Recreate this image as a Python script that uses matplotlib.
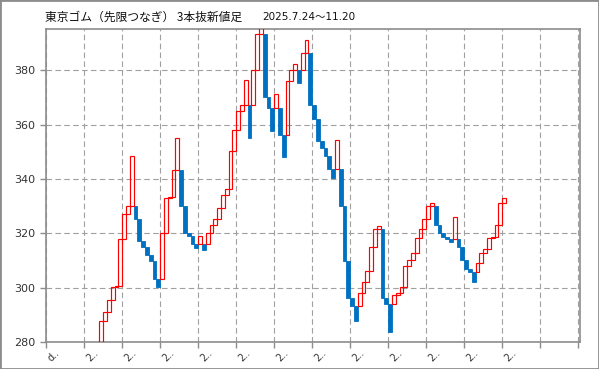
import matplotlib
matplotlib.use("Agg")
import matplotlib.pyplot as plt
from matplotlib.patches import Rectangle
import numpy as np

plt.rcParams["font.family"] = ["Noto Sans CJK JP", "DejaVu Sans"]

title = "東京ゴム（先限つなぎ） 3本抜新値足"
period = "2025.7.24〜11.20"

# box start / end of each new-value bar (bar index starts at 14)
first_bar = 14
opens = [
    275, 288, 291, 295.5, 300.2, 300.7, 318, 327.2, 330.1, 330.1,
    325.2, 317.2, 314.9, 312, 310, 303.2, 303.2, 320, 332.9, 333.3,
    343.3, 343.3, 330.1, 320, 319.2, 316, 316, 316, 316, 320.1,
    323.1, 325.2, 329.3, 334.2, 336.3, 350.2, 358, 365, 367.2, 367.2,
    367.2, 380, 393.2, 393.2, 370, 366, 366, 366, 356, 356,
    376, 380, 380, 380, 386.2, 386.2, 367.2, 362, 354.1, 351.5,
    348.5, 343.6, 343.6, 343.6, 330.1, 310, 296.2, 293.3, 293.3, 298,
    302.1, 306.2, 314.9, 321.5, 321.5, 296.2, 294, 294, 297.4, 298.2,
    300.2, 308.1, 310.3, 312.9, 318.2, 321.7, 325.2, 329.9, 329.9, 323.1,
    320.1, 318.8, 317.9, 317.9, 317.9, 314.9, 310.3, 307, 306, 306,
    309.3, 312.9, 314.2, 318.2, 318.8, 323.1, 331.1,
]
closes = [
    288, 291, 295.5, 300.2, 300.7, 318, 327.2, 330.1, 348.5, 325.2,
    317.2, 314.9, 312, 310, 303.2, 300.2, 320, 332.9, 333.3, 343.3,
    355, 330.1, 320, 319.2, 316, 314.8, 319.1, 313.9, 320.1, 323.1,
    325.2, 329.3, 334.2, 336.3, 350.2, 358, 365, 367.2, 376.4, 355,
    380, 393.2, 398, 370, 366, 357.8, 371.2, 356, 347.9, 376,
    380, 382.2, 375.2, 386.2, 391.1, 367.2, 362, 354.1, 351.5, 348.5,
    343.6, 340.5, 354.2, 330.1, 310, 296.2, 293.3, 287.9, 298, 302.1,
    306.2, 314.9, 321.5, 322.9, 296.2, 294, 283.9, 297.4, 298.2, 300.2,
    308.1, 310.3, 312.9, 318.2, 321.7, 325.2, 329.9, 331.1, 323.1, 320.1,
    318.8, 317.9, 317, 326, 314.9, 310.3, 307, 306, 302.1, 309.3,
    312.9, 314.2, 318.2, 318.8, 323.1, 331.1, 332.9,
]

y_ticks = [280, 300, 320, 340, 360, 380]
x_ticks = list(range(0, 150, 10))
x_labels = ["d.."] + ["2.."] * 12 + ["", ""]

opens = np.array(opens)
closes = np.array(closes)
x = np.arange(first_bar, first_bar + len(closes))
lo = np.minimum(opens, closes)
hi = np.maximum(opens, closes)
up = closes > opens

fig = plt.figure(figsize=(5.99, 3.69), dpi=100)
ax = fig.add_axes([46.3 / 599, 26.7 / 369, (580 - 46.3) / 599, (342.3 - 29.3) / 369])

# down bars: filled blue, up bars: hollow red
ax.bar(x[~up], (hi - lo)[~up], bottom=lo[~up], width=1.0, align="edge",
       color="#0070c0", edgecolor="#0070c0", linewidth=0.6, zorder=3)
ax.bar(x[up], (hi - lo)[up], bottom=lo[up], width=1.0, align="edge",
       fill=False, edgecolor="#ff0000", linewidth=0.85, zorder=4)

ax.set_xlim(0, 140.5)
ax.set_ylim(280, 395)
ax.set_yticks(y_ticks)
ax.set_xticks(x_ticks)
ax.set_xticklabels(x_labels, rotation=45, ha="left", rotation_mode="anchor",
                   fontsize=7, family="DejaVu Sans")
for lab in ax.get_yticklabels():
    lab.set_family("DejaVu Sans")
ax.tick_params(axis="y", labelsize=8, length=4, width=1, color="#8c8c8c",
               labelcolor="#333333", pad=4)
ax.tick_params(axis="x", length=4, width=1, color="#8c8c8c",
               labelcolor="#333333", pad=6)
ax.grid(True, color="#a0a0a0", linestyle=(0, (5, 3)), linewidth=0.8, zorder=0)
ax.set_axisbelow(True)
for s in ax.spines.values():
    s.set_color("#8c8c8c")
    s.set_linewidth(1.2)

fig.text(45 / 599, 1 - 17 / 369, title, fontsize=8.5, va="center", ha="left", color="#111111")
fig.text(262 / 599, 1 - 17 / 369, period, fontsize=7.5, va="center", ha="left",
         color="#111111", family=["DejaVu Sans", "Noto Sans CJK JP"])

fig.patches.append(Rectangle((0, 0), 1, 1, transform=fig.transFigure, fill=False,
                             edgecolor="#8c8c8c", linewidth=2))

fig.savefig("out.png", dpi=100)
